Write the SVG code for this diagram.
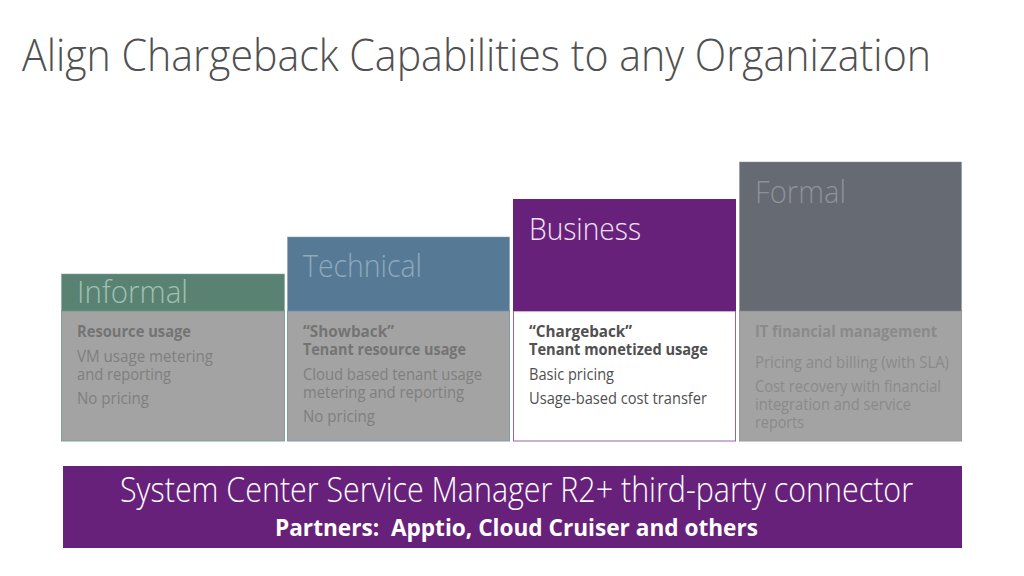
<svg xmlns="http://www.w3.org/2000/svg" width="1024" height="576" viewBox="0 0 1024 576">
<style>
text{font-family:"Open Sans","Noto Sans","Liberation Sans",sans-serif}
.t{font-weight:300;font-size:45px;fill:#505050}
.h{font-weight:300;font-size:32px}
.b{font-weight:700;font-size:16px}
.n{font-weight:400;font-size:16px}
.g{fill:#747474}
.k{fill:#7f7f7f}
.body{fill:#a3a3a3}
</style>
<rect width="1024" height="576" fill="#fff"/>
<text id="title" class="t" x="22" y="71" textLength="909" lengthAdjust="spacingAndGlyphs">Align Chargeback Capabilities to any Organization</text>
<g id="informal">
<rect class="body" x="61.500" y="311" width="223" height="130" stroke="#7da196"/>
<rect x="61.500" y="274" width="223" height="37" fill="#5a8273" stroke="#7da196" stroke-width="0.500"/>
<text class="h" x="77" y="303" fill="#9fc0b3" textLength="111" lengthAdjust="spacingAndGlyphs">Informal</text>
<text class="b g" x="77" y="337" textLength="114" lengthAdjust="spacingAndGlyphs">Resource usage</text>
<text class="n k" x="77" y="362" textLength="136" lengthAdjust="spacingAndGlyphs">VM usage metering</text>
<text class="n k" x="77" y="380" textLength="94" lengthAdjust="spacingAndGlyphs">and reporting</text>
<text class="n k" x="77" y="404" textLength="72" lengthAdjust="spacingAndGlyphs">No pricing</text>
</g>
<g id="technical">
<rect class="body" x="287.500" y="311" width="222" height="130" stroke="#7f9bb0"/>
<rect x="287.500" y="237" width="222" height="74" fill="#567a96" stroke="#7f9bb0" stroke-width="0.500"/>
<text class="h" x="303" y="277" fill="#8fa9bd" textLength="119" lengthAdjust="spacingAndGlyphs">Technical</text>
<text class="b g" x="303" y="337" textLength="91" lengthAdjust="spacingAndGlyphs">“Showback”</text>
<text class="b g" x="303" y="355" textLength="163" lengthAdjust="spacingAndGlyphs">Tenant resource usage</text>
<text class="n k" x="303" y="380" textLength="179" lengthAdjust="spacingAndGlyphs">Cloud based tenant usage</text>
<text class="n k" x="303" y="398" textLength="161" lengthAdjust="spacingAndGlyphs">metering and reporting</text>
<text class="n k" x="303" y="422" textLength="72" lengthAdjust="spacingAndGlyphs">No pricing</text>
</g>
<g id="business">
<rect x="513.500" y="311" width="222" height="130" fill="#fff" stroke="#9a63a8"/>
<rect x="513" y="199" width="223" height="112" fill="#68217a"/>
<text class="h" x="529" y="240" fill="#f0e4f4" textLength="112" lengthAdjust="spacingAndGlyphs">Business</text>
<text class="b" x="529" y="337" fill="#505050" textLength="103" lengthAdjust="spacingAndGlyphs">“Chargeback”</text>
<text class="b" x="529" y="355" fill="#505050" textLength="179" lengthAdjust="spacingAndGlyphs">Tenant monetized usage</text>
<text class="n" x="529" y="380" fill="#505050" textLength="85" lengthAdjust="spacingAndGlyphs">Basic pricing</text>
<text class="n" x="529" y="404" fill="#505050" textLength="178" lengthAdjust="spacingAndGlyphs">Usage-based cost transfer</text>
</g>
<g id="formal">
<rect class="body" x="739.500" y="311" width="222" height="130" stroke="#9a9a9a"/>
<rect x="739.500" y="162" width="222" height="149" fill="#656a73" stroke="#8a8e94" stroke-width="0.500"/>
<text class="h" x="755" y="203" fill="#8e929a" textLength="91" lengthAdjust="spacingAndGlyphs">Formal</text>
<text class="b" x="755" y="337" fill="#8a8a8a" textLength="182" lengthAdjust="spacingAndGlyphs">IT financial management</text>
<text class="n" x="755" y="368" fill="#8a8a8a" textLength="194" lengthAdjust="spacingAndGlyphs">Pricing and billing (with SLA)</text>
<text class="n" x="755" y="392" fill="#8a8a8a" textLength="186" lengthAdjust="spacingAndGlyphs">Cost recovery with financial</text>
<text class="n" x="755" y="410" fill="#8a8a8a" textLength="156" lengthAdjust="spacingAndGlyphs">integration and service</text>
<text class="n" x="755" y="428" fill="#8a8a8a" textLength="49" lengthAdjust="spacingAndGlyphs">reports</text>
</g>
<g id="banner">
<rect x="63" y="466" width="899" height="82" fill="#68217a"/>
<text x="120" y="502" font-size="34" font-weight="300" fill="#fff" textLength="793" lengthAdjust="spacingAndGlyphs">System Center Service Manager R2+ third-party connector</text>
<text x="275" y="536" font-size="24" font-weight="700" fill="#fff" textLength="483" lengthAdjust="spacingAndGlyphs" xml:space="preserve">Partners:  Apptio, Cloud Cruiser and others</text>
</g>
<g id="connectors"/>
</svg>
